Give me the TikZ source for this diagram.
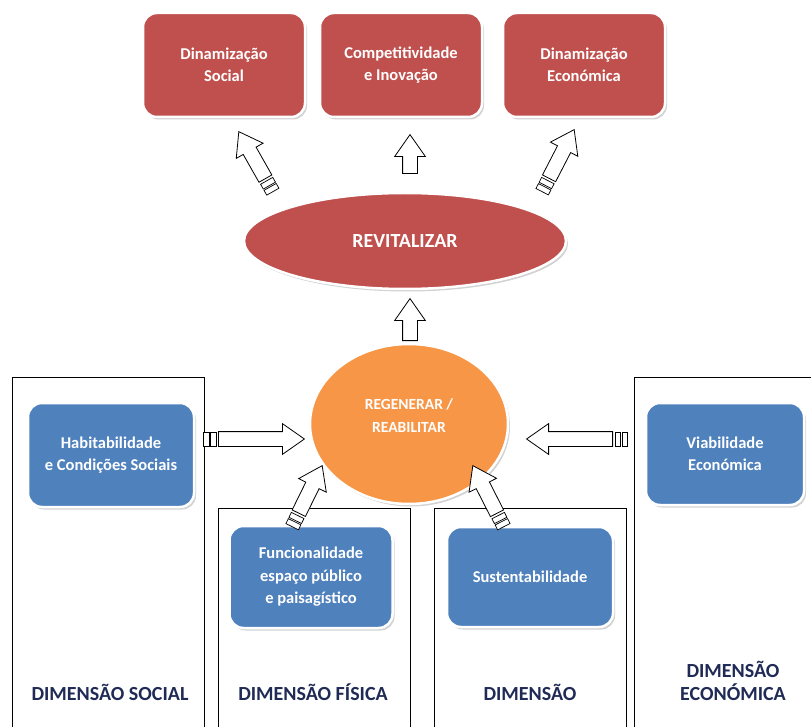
\documentclass[tikz,border=0pt]{standalone}
\usepackage{fontspec}
\setmainfont{Carlito}
\usetikzlibrary{shapes.geometric, shapes.arrows, shadows, calc}

\definecolor{boxred}{HTML}{C0504D}
\definecolor{boxblue}{HTML}{4F81BD}
\definecolor{boxorange}{HTML}{F79646}
\definecolor{labelnavy}{HTML}{1F2A55}

% hollow arrow with two bands at the tail
\newcommand\bandarrow[2]{%
  \path (#1) -- (#2) node[pos=0, sloped, allow upside down, anchor=west, band] {};
  \path ($(#1)!7pt!(#2)$) -- (#2) node[pos=0, sloped, allow upside down, anchor=west, band] {};
  \path let \p1 = ($(#2)-(#1)$), \n1 = {veclen(\x1,\y1)-15pt} in
    ($(#1)!15pt!(#2)$) -- (#2) node[pos=0, sloped, allow upside down, anchor=tail, hollow, minimum height=\n1] {};
}
% hollow arrow, plain tail
\newcommand\plainarrow[2]{%
  \path let \p1 = ($(#2)-(#1)$), \n1 = {veclen(\x1,\y1)} in
    (#1) -- (#2) node[pos=0, sloped, allow upside down, anchor=tail, hollow, minimum height=\n1] {};
}

\begin{document}
\begin{tikzpicture}[x=1pt, y=-1pt,
    card/.style={rounded corners=14pt, draw=white, line width=2.5pt, text=white, align=center,
      font=\bfseries\fontsize{16.5}{22.5}\selectfont, inner sep=0pt,
      drop shadow={shadow xshift=2pt, shadow yshift=-2.5pt, fill=black!35}},
    redbox/.style={card, fill=boxred, minimum width=162pt, minimum height=104pt},
    bluebox/.style={card, fill=boxblue},
    oval/.style={ellipse, draw=white, line width=2.5pt, text=white, align=center, inner sep=0pt,
      drop shadow={shadow xshift=2pt, shadow yshift=-2.5pt, fill=black!35}},
    frame/.style={draw=black, line width=0.8pt},
    dimlabel/.style={text=labelnavy, align=center, font=\bfseries\fontsize{20}{23}\selectfont},
    hollow/.style={single arrow, draw=black, fill=white, line width=0.8pt, inner sep=7pt,
      single arrow head extend=8pt, single arrow tip angle=70},
    band/.style={rectangle, draw=black, fill=white, line width=0.7pt, inner sep=0pt,
      minimum width=5.5pt, minimum height=14pt}]
  \useasboundingbox (0,0) rectangle (811,727);

  % dimension frames
  \draw[frame] (12,377) rectangle (204,740);
  \draw[frame] (218,508) rectangle (410,740);
  \draw[frame] (434,508) rectangle (626,740);
  \draw[frame] (634,377) rectangle (830,740);

  % results
  \node[redbox] (dsoc) at (224,65) {Dinamização\\Social};
  \node[redbox] (comp) at (401,65) {Competitividade\\e Inovação};
  \node[redbox] (deco) at (584,65) {Dinamização\\Económica};

  \node[oval, fill=boxred, minimum width=322pt, minimum height=96pt,
    font=\bfseries\fontsize{20}{24}\selectfont] (revit) at (405,241) {REVITALIZAR};
  \node[oval, fill=boxorange, minimum width=198pt, minimum height=160pt,
    label={[text=white, align=center, yshift=8pt, font=\bfseries\fontsize{15.5}{23}\selectfont]center:REGENERAR /\\REABILITAR}]
    (regen) at (409,424) {};

  % dimensions
  \node[bluebox, minimum width=166pt, minimum height=104pt] (habit) at (111,455) {Habitabilidade\\e Condições Sociais};
  \node[bluebox, minimum width=158pt, minimum height=102pt] (viab) at (725,454) {Viabilidade\\Económica};
  \node[bluebox, minimum width=163pt, minimum height=102pt] (func) at (311,577) {Funcionalidade\\espaço público\\e paisagístico};
  \node[bluebox, minimum width=166pt, minimum height=100pt] (sust) at (530,577) {Sustentabilidade};

  \node[dimlabel] (lsoc) at (110,692) {DIMENSÃO SOCIAL};
  \node[dimlabel] (lfis) at (313,692) {DIMENSÃO FÍSICA};
  \node[dimlabel] (lamb) at (530,692) {DIMENSÃO};
  \node[dimlabel] (leco) at (733,681) {DIMENSÃO\\ECONÓMICA};

  % arrow ends
  \coordinate (t1) at (273,192); \coordinate (h1) at (239,132);
  \coordinate (t2) at (410,174); \coordinate (h2) at (410,135);
  \coordinate (t3) at (542,192); \coordinate (h3) at (574,130);
  \coordinate (t4) at (410,341); \coordinate (h4) at (410,299);
  \coordinate (t5) at (203,439); \coordinate (h5) at (304,439);
  \coordinate (t6) at (628,439); \coordinate (h6) at (527,439);
  \coordinate (t7) at (292,527); \coordinate (h7) at (322,466);
  \coordinate (t8) at (504,527); \coordinate (h8) at (473,466);

  \bandarrow{t1}{h1}
  \plainarrow{t2}{h2}
  \bandarrow{t3}{h3}
  \plainarrow{t4}{h4}
  \bandarrow{t5}{h5}
  \bandarrow{t6}{h6}
  \bandarrow{t7}{h7}
  \bandarrow{t8}{h8}
\end{tikzpicture}
\end{document}
